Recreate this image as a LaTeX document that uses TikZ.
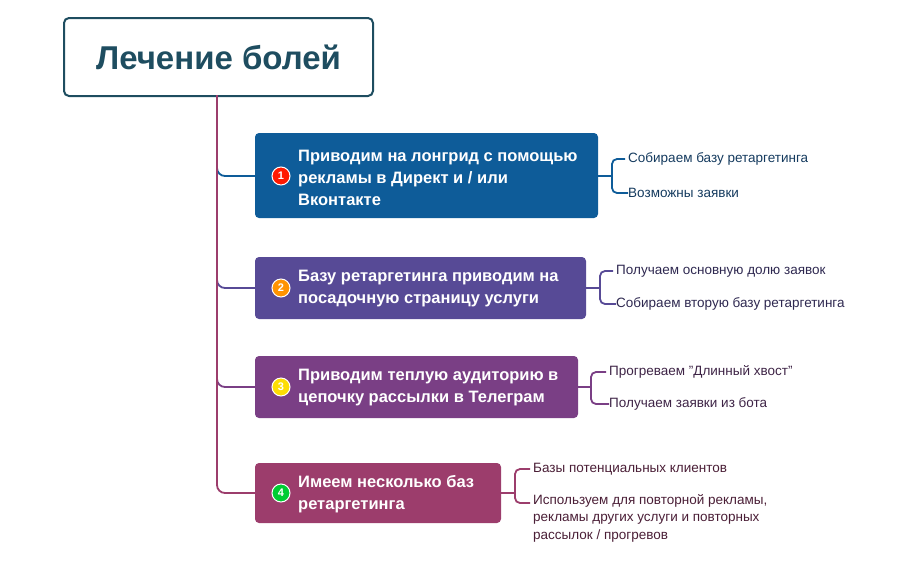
\documentclass[tikz,border=0pt]{standalone}
\usepackage{fontspec}
\setmainfont{Liberation Sans}
\begin{document}
\begin{tikzpicture}[x=1pt,y=-1pt,
  box/.style={anchor=west,inner sep=0pt,text=white,align=left,font=\bfseries\fontsize{16.5}{22}\selectfont},
  badge/.style={circle,draw=white,line width=1pt,inner sep=0pt,minimum size=18pt,text=white,font=\bfseries\fontsize{11}{11}\selectfont},
  child/.style={anchor=west,inner sep=0pt,font=\fontsize{13.5}{17.5}\selectfont,align=left},
  conn/.style={line width=1.8pt}]
\definecolor{cA}{HTML}{0E5C99}\definecolor{cB}{HTML}{574A96}
\definecolor{cC}{HTML}{7A3F85}\definecolor{cD}{HTML}{9C3D6C}
\definecolor{tA}{HTML}{143A5E}\definecolor{tB}{HTML}{2E2850}
\definecolor{tC}{HTML}{3E2446}\definecolor{tD}{HTML}{4A1E36}
\definecolor{rootc}{HTML}{1E4D60}
\useasboundingbox (0,0) rectangle (918,568);
\node[draw=rootc,line width=2pt,rounded corners=5pt,minimum width=309pt,minimum height=78pt,anchor=north west,text=rootc,font=\bfseries\fontsize{33}{33}\selectfont] (root) at (63,17) {Лечение болей};
% boxes
\fill[cA,rounded corners=4pt] (255,133) rectangle (598,218); \coordinate (b1w) at (255,176); \coordinate (b1e) at (598,176);
\fill[cB,rounded corners=4pt] (255,257) rectangle (586,319); \coordinate (b2w) at (255,288); \coordinate (b2e) at (586,288);
\fill[cC,rounded corners=4pt] (255,356) rectangle (578,418); \coordinate (b3w) at (255,387); \coordinate (b3e) at (578,387);
\fill[cD,rounded corners=4pt] (255,463) rectangle (501,523); \coordinate (b4w) at (255,493); \coordinate (b4e) at (501,493);
\node[box] (t1) at (298,178) {Приводим на лонгрид с помощью\\рекламы в Директ и / или\\Вконтакте};
\node[box] (t2) at (298,289) {Базу ретаргетинга приводим на\\посадочную страницу услуги};
\node[box] (t3) at (298,388) {Приводим теплую аудиторию в\\цепочку рассылки в Телеграм};
\node[box] (t4) at (298,494) {Имеем несколько баз\\ретаргетинга};
\node[badge,fill=red!80!orange] (n1) at (281,176) {1};
\node[badge,fill=orange!85!yellow] (n2) at (281,288) {2};
\node[badge,fill=yellow!80!orange] (n3) at (281,387) {3};
\node[badge,fill=green!60!teal] (n4) at (281,493) {4};
% trunk
\coordinate (tr) at (217,95);
\draw[conn,cD] (tr) -- (217,480);
\draw[conn,cD,rounded corners=8pt] (217,470) |- (b4w);
\draw[conn,cC,rounded corners=8pt] (217,370) |- (b3w);
\draw[conn,cB,rounded corners=8pt] (217,270) |- (b2w);
\draw[conn,cA,rounded corners=8pt] (217,160) |- (b1w);
\draw[conn,cD] (tr) -- (217,400);
% children
\node[child,text=tA] (c11) at (628,159) {Собираем базу ретаргетинга};
\node[child,text=tA] (c12) at (628,193) {Возможны заявки};
\node[child,text=tB] (c21) at (616,271) {Получаем основную долю заявок};
\node[child,text=tB] (c22) at (616,304) {Собираем вторую базу ретаргетинга};
\node[child,text=tC] (c31) at (609,372) {Прогреваем "Длинный хвост"};
\node[child,text=tC] (c32) at (609,404) {Получаем заявки из бота};
\node[child,text=tD] (c41) at (533,469) {Базы потенциальных клиентов};
\node[child,text=tD,anchor=north west] (c42) at (533,494) {Используем для повторной рекламы,\\рекламы других услуги и повторных\\рассылок / прогревов};
\coordinate (c42w) at (533,503);
\foreach \b/\x/\a/\c/\col in {b1e/612/c11/c12/cA, b2e/600/c21/c22/cB, b3e/591/c31/c32/cC, b4e/515/c41/c42w/cD}{
  \draw[conn,\col] (\b) -- (\x,0 |- \b);
  \draw[conn,\col,rounded corners=5pt] ([xshift=-3pt]\a.west) -| (\x,0 |- \b) |- ([xshift=-3pt]\c);
}
\end{tikzpicture}
\end{document}
